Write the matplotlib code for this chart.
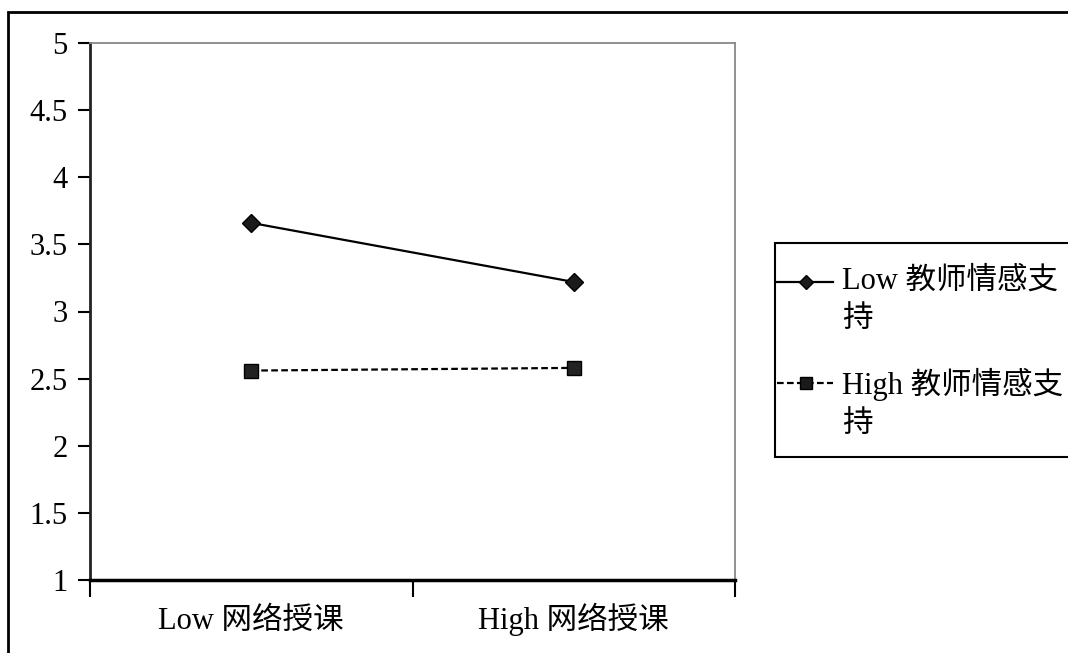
import matplotlib.pyplot as plt
from matplotlib.patches import Rectangle
from matplotlib.lines import Line2D

plt.rcParams['font.family'] = ['Liberation Serif', 'Noto Sans CJK SC']

# data
categories = ['Low 网络授课', 'High 网络授课']
low_support = [3.66, 3.22]
high_support = [2.56, 2.58]
series_names = ['Low 教师情感支\n持', 'High 教师情感支\n持']
y_ticks = [1, 1.5, 2, 2.5, 3, 3.5, 4, 4.5, 5]
y_labels = ['1', '1.5', '2', '2.5', '3', '3.5', '4', '4.5', '5']

W, H = 1068, 653
fig = plt.figure(figsize=(W / 100, H / 100), dpi=100)
ax = fig.add_axes([90 / W, 1 - 580 / H, 645 / W, 537 / H])

x = range(len(categories))
ax.plot(x, low_support, color='black', lw=1.6, marker='D', ms=9,
        markerfacecolor='#1a1a1a', markeredgecolor='black')
ax.plot(x, high_support, color='black', lw=1.6, ls=(0, (3, 1.5)), marker='s', ms=10,
        markerfacecolor='#222222', markeredgecolor='black')

ax.set_xlim(-0.5, 1.5)
ax.set_ylim(1, 5)
ax.set_yticks(y_ticks)
ax.set_yticklabels(y_labels)
ax.tick_params(axis='y', direction='out', length=9, width=1.5, labelsize=22, pad=7)

# category axis: ticks sit between categories, labels at centres
ax.set_xticks([-0.5, 0.5, 1.5])
ax.set_xticklabels(['', '', ''])
ax.set_xticks([0, 1], minor=True)
ax.set_xticklabels(categories, minor=True, fontsize=22)
ax.tick_params(axis='x', which='major', direction='out', length=12, width=1.5)
ax.tick_params(axis='x', which='minor', length=0, pad=35)
for lab in ax.get_xticklabels(minor=True):
    lab.set_va('baseline')

ax.spines['left'].set_linewidth(2)
ax.spines['left'].set_color('#222222')
ax.spines['bottom'].set_linewidth(2.5)
ax.spines['bottom'].set_color('black')
for s in ['top', 'right']:
    ax.spines[s].set_linewidth(1.3)
    ax.spines[s].set_color('#888888')

# outer chart-area border (cropped on right and bottom)
fig.patches.append(Rectangle((8 / W, -0.1), 1.2, 1 - 12 / H + 0.1, transform=fig.transFigure,
                             fill=False, ec='black', lw=2))

# legend box drawn by hand, it runs off the right edge
fig.patches.append(Rectangle((775 / W, 1 - 457 / H), 0.5, 214 / H, transform=fig.transFigure,
                             fill=True, fc='white', ec='black', lw=1.5))
handle_styles = [dict(ls='-', marker='D', ms=7), dict(ls=(0, (3, 1.5)), marker='s', ms=9)]
rows = [282, 383]
for name, st, yr in zip(series_names, handle_styles, rows):
    yy = 1 - yr / H
    fig.lines.append(Line2D([777 / W, 833 / W], [yy, yy], transform=fig.transFigure,
                            color='black', lw=1.6, ls=st['ls']))
    fig.lines.append(Line2D([806 / W], [yy], transform=fig.transFigure, color='black',
                            marker=st['marker'], ms=st['ms'], markerfacecolor='#1a1a1a'))
    fig.text(842 / W, yy + 15 / H, name, fontsize=22, va='top', ha='left', linespacing=1.42)

fig.savefig('out.png', dpi=100)
